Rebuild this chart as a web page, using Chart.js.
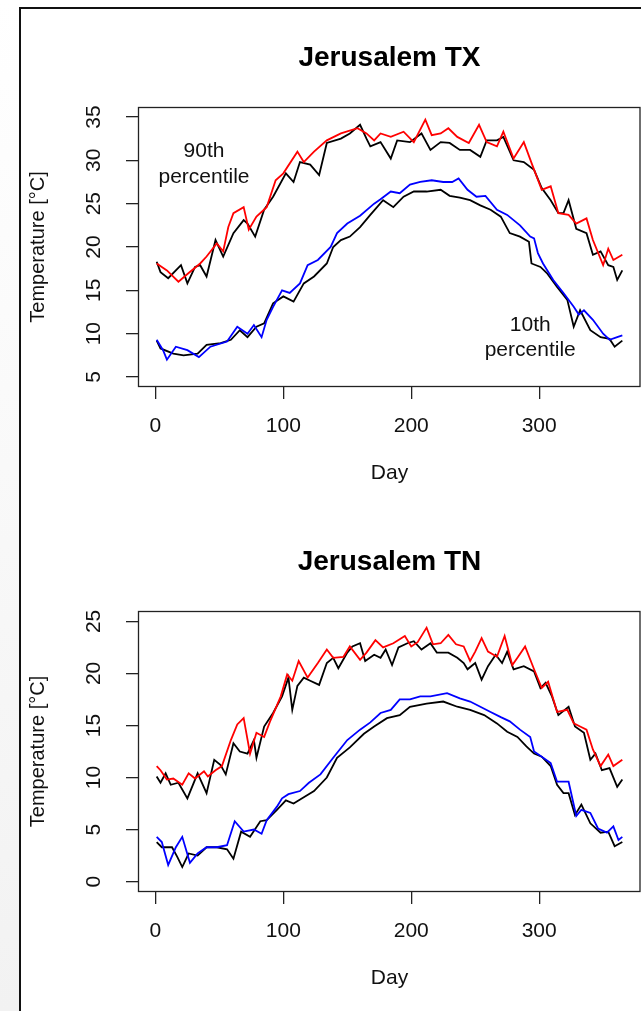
<!DOCTYPE html>
<html>
<head>
<meta charset="utf-8">
<script src="https://cdn.jsdelivr.net/npm/chart.js@4.4.0/dist/chart.umd.min.js"></script>
<style>
  body { margin: 0; width: 641px; height: 1011px; overflow: hidden; position: relative;
         background: linear-gradient(#ffffff, #f2f2f2); }
  #frame { position: absolute; left: 19px; top: 7px; width: 700px; height: 1100px;
           border: 2px solid #111; background: #fff; }
  canvas { position: absolute; left: 0; }
</style>
</head>
<body>
<div id="frame"></div>
<canvas id="chartTX" width="641" height="505" style="top:0px"></canvas>
<canvas id="chartTN" width="641" height="506" style="top:504px"></canvas>
<script>
'use strict';

// tick labels
let dayTicks = [0, 100, 200, 300];
let txTicks = [5, 10, 15, 20, 25, 30, 35];
let tnTicks = [0, 5, 10, 15, 20, 25];

// Jerusalem TX, 90th percentile (red = observed, black = second curve)
let txHiRedDays = [1,9,18,26,35,40,48,53,57,61,69,73,79,87,94,100,111,116,124,134,145,158,165,171,176,184,194,202,211,216,223,229,236,245,253,259,267,272,280,288,294,302,309,315,323,329,337,342,350,354,358,365];
let txHiRedVals = [18.1,17.3,16.0,17.0,18.1,18.9,20.4,19.5,22.3,23.9,24.6,22.0,23.5,24.6,27.7,28.5,31.0,29.8,31.0,32.3,33.1,33.7,33.1,32.3,33.1,32.7,33.3,32.1,34.7,32.9,33.1,33.7,32.7,32.0,34.1,32.1,31.6,33.3,30.2,32.1,29.7,26.6,27.0,23.9,23.7,22.7,23.3,20.8,17.9,19.8,18.5,19.1];
let txHiBlackDays = [1,4,10,20,25,31,35,40,47,53,61,69,72,78,85,92,102,108,113,121,128,134,145,152,160,165,168,176,184,189,199,208,215,223,230,238,246,254,259,267,272,280,288,296,302,309,315,319,323,329,337,342,348,354,358,361,365];
let txHiBlackVals = [18.3,17.1,16.4,17.9,15.8,17.7,17.9,16.6,20.8,18.9,21.6,23.1,22.7,21.2,24.3,25.8,28.5,27.5,29.8,29.5,28.3,32.0,32.5,33.1,34.1,32.5,31.6,32.1,30.2,32.3,32.1,33.1,31.2,32.1,32.0,31.2,31.2,30.4,32.3,32.3,32.7,30.0,29.8,28.9,26.8,25.4,23.9,23.9,25.4,22.1,21.6,19.1,19.5,17.9,17.7,16.2,17.3];
// Jerusalem TX, 10th percentile (blue / black)
let txLoBlueDays = [1,6,9,16,25,34,43,56,64,72,77,83,87,92,99,105,113,119,127,137,142,150,160,171,176,184,191,199,207,216,225,232,237,244,251,258,267,275,285,293,296,299,303,311,319,327,331,335,342,350,355,361,365];
let txLoBlueVals = [9.3,8.1,7.0,8.5,8.1,7.3,8.5,9.1,10.8,10.0,11.0,9.6,11.6,13.1,15.0,14.7,15.8,17.9,18.5,20.0,21.6,22.7,23.6,25.0,25.5,26.4,26.2,27.2,27.5,27.7,27.5,27.5,27.9,26.6,25.8,25.9,24.3,23.7,22.5,21.2,21.0,19.3,18.1,16.2,14.7,13.1,12.2,12.7,11.6,10.0,9.3,9.6,9.8];
let txLoBlackDays = [1,4,14,22,33,40,51,59,66,72,79,85,92,100,108,116,124,134,139,145,152,160,168,178,186,194,202,212,223,230,238,246,254,262,270,277,285,292,294,301,306,314,322,327,332,340,348,355,359,365];
let txLoBlackVals = [9.2,8.3,7.7,7.5,7.7,8.7,8.9,9.3,10.4,9.6,10.8,11.2,13.5,14.3,13.7,15.8,16.6,18.1,20.0,20.8,21.2,22.3,23.7,25.4,24.6,25.8,26.4,26.4,26.6,25.9,25.7,25.4,24.8,24.3,23.5,21.6,21.2,20.6,18.1,17.7,17.0,15.4,13.9,10.8,12.7,10.4,9.6,9.4,8.5,9.2];

// Jerusalem TN, 90th percentile (red / black)
let tnHiRedDays = [1,4,9,14,21,26,31,38,41,47,52,59,64,69,74,79,85,90,98,103,107,112,119,127,134,139,147,152,160,165,172,178,186,195,200,205,212,217,223,229,235,241,246,250,255,260,267,273,279,283,289,296,302,307,314,322,327,332,337,342,348,354,358,365];
let tnHiRedVals = [11.1,10.7,9.8,9.9,9.3,10.4,9.9,10.6,10.1,10.7,11.1,13.6,15.1,15.7,12.3,14.3,13.9,15.5,17.8,19.9,19.3,21.2,19.6,21.0,22.3,21.5,21.6,22.6,21.3,22.0,23.2,22.5,22.9,23.6,22.6,23.0,24.4,22.8,22.9,23.7,22.8,22.6,21.2,22.1,23.4,22.1,21.6,23.6,20.8,21.5,22.6,20.4,18.6,19.2,16.3,16.5,15.2,14.9,14.6,12.7,11.1,12.2,11.1,11.7];
let tnHiBlackDays = [1,4,8,12,18,25,33,40,46,51,55,61,66,72,77,79,85,92,99,104,107,111,116,121,128,134,139,143,150,154,160,164,171,176,180,185,190,197,202,208,215,220,229,236,241,244,250,255,260,266,271,275,280,288,296,301,305,310,315,323,328,335,340,344,349,355,361,365];
let tnHiBlackVals = [10.1,9.5,10.4,9.3,9.5,8.0,10.4,8.5,11.7,11.2,10.3,13.3,12.5,12.3,13.6,11.9,14.9,16.2,17.8,19.6,16.5,18.8,19.6,19.3,18.9,21.0,21.5,20.5,22.0,22.6,22.9,21.2,21.8,21.5,22.3,20.8,22.5,22.9,23.1,22.3,22.9,22.0,22.0,21.5,21.0,20.4,21.0,19.4,20.7,21.8,21.0,22.1,20.4,20.7,20.2,18.6,19.1,17.8,16.0,16.8,14.9,14.3,11.7,12.3,10.7,10.9,9.1,9.8];
// Jerusalem TN, 10th percentile (blue / black)
let tnLoBlueDays = [1,5,10,16,21,27,33,40,48,56,62,69,77,83,87,95,99,104,113,120,129,139,150,160,168,176,184,191,199,207,215,228,238,246,254,262,270,277,285,293,296,302,309,314,323,329,333,340,346,353,358,362,365];
let tnLoBlueVals = [4.3,3.8,1.6,3.3,4.3,1.8,2.7,3.3,3.3,3.5,5.8,4.8,5.0,4.6,5.9,7.2,8.0,8.4,8.7,9.5,10.3,11.9,13.6,14.6,15.3,16.2,16.5,17.5,17.5,17.8,17.8,18.1,17.6,17.3,16.8,16.3,15.8,15.4,14.6,13.9,12.5,12.0,11.4,9.6,9.6,6.3,6.9,6.6,5.1,4.7,5.3,4.0,4.3];
let tnLoBlackDays = [1,5,13,17,21,26,33,40,48,56,61,67,74,82,87,95,102,108,116,124,134,142,152,163,171,181,191,199,212,225,236,246,257,267,275,283,290,296,302,309,314,319,323,328,333,340,348,354,359,365];
let tnLoBlackVals = [3.8,3.3,3.3,2.4,1.4,2.7,2.5,3.3,3.3,3.1,2.2,4.8,4.3,5.8,5.9,6.9,7.8,7.5,8.1,8.7,10.0,11.9,12.9,14.2,14.9,15.7,16.0,16.8,17.1,17.3,16.8,16.5,16.0,15.2,14.4,13.9,13.0,12.3,12.0,11.1,9.3,8.5,8.5,6.4,7.4,5.6,4.7,4.8,3.4,3.8];

const FONT = 'Liberation Sans, Arial, sans-serif';
const AXIS_COLOR = '#222';

//pair up day and value arrays
function points(days, vals) {
    return days.map((d, i) => ({ x: d, y: vals[i] }));
}

function line(days, vals, color) {
    return {
        data: points(days, vals),
        borderColor: color,
        borderWidth: 1.8,
        pointRadius: 0,
        tension: 0,
        fill: false
    };
}

//draws the full box round the plot area like R does, and the title centred over it
const boxPlugin = {
    id: 'box',
    afterDatasetsDraw(chart, args, opts) {
        const a = chart.chartArea;
        const ctx = chart.ctx;
        ctx.save();
        ctx.strokeStyle = AXIS_COLOR;
        ctx.lineWidth = 1.3;
        ctx.strokeRect(a.left + 0.5, a.top + 0.5, a.right - a.left - 1.5, a.bottom - a.top - 1);
        ctx.fillStyle = '#000';
        ctx.font = 'bold 28px ' + FONT;
        ctx.textAlign = 'center';
        ctx.textBaseline = 'middle';
        ctx.fillText(opts.title, (a.left + a.right) / 2, a.top - 49);
        ctx.restore();
    }
};

//text labels placed with data coordinates
const notesPlugin = {
    id: 'notes',
    afterDatasetsDraw(chart, args, opts) {
        const ctx = chart.ctx;
        const xs = chart.scales.x;
        const ys = chart.scales.y;
        ctx.save();
        ctx.fillStyle = '#111';
        ctx.font = '21px ' + FONT;
        ctx.textAlign = 'center';
        ctx.textBaseline = 'middle';
        (opts.items || []).forEach(n => {
            ctx.fillText(n.text, xs.getPixelForValue(n.x), ys.getPixelForValue(n.y));
        });
        ctx.restore();
    }
};

function makeChart(id, title, datasets, yMin, yMax, yTicks, notes) {
    const ctx = document.getElementById(id).getContext('2d');
    return new Chart(ctx, {
        type: 'line',
        data: { datasets: datasets },
        options: {
            responsive: false,
            animation: false,
            layout: { padding: { left: 22, top: 107, right: 0, bottom: 0 } },
            plugins: {
                legend: { display: false },
                tooltip: { enabled: false },
                title: { display: false },
                box: { title: title },
                notes: { items: notes }
            },
            scales: {
                x: {
                    type: 'linear',
                    min: -13.6,
                    max: 379.6,
                    afterBuildTicks: s => { s.ticks = dayTicks.map(v => ({ value: v })); },
                    afterFit: s => { s.height = 118; },
                    border: { display: false },
                    grid: { drawOnChartArea: false, drawTicks: true, tickLength: 12, color: AXIS_COLOR, lineWidth: 1.3 },
                    ticks: { color: '#111', font: { family: FONT, size: 21 }, padding: 15, maxRotation: 0 },
                    title: { display: true, text: 'Day', color: '#111', font: { family: FONT, size: 21 }, padding: { top: 0, bottom: 19 } }
                },
                y: {
                    min: yMin,
                    max: yMax,
                    afterBuildTicks: s => { s.ticks = yTicks.map(v => ({ value: v })); },
                    afterFit: s => { s.width = 116; },
                    border: { display: false },
                    grid: { drawOnChartArea: false, drawTicks: true, tickLength: 12, color: AXIS_COLOR, lineWidth: 1.3 },
                    ticks: { color: '#111', font: { family: FONT, size: 21 }, padding: 20, minRotation: 90, maxRotation: 90, crossAlign: 'center' },
                    title: { display: true, text: 'Temperature [°C]', color: '#111', font: { family: FONT, size: 20 }, padding: { top: 4, bottom: 0 } }
                }
            }
        },
        plugins: [boxPlugin, notesPlugin]
    });
}

makeChart('chartTX', 'Jerusalem TX', [
    line(txHiRedDays, txHiRedVals, '#ff0000'),
    line(txLoBlueDays, txLoBlueVals, '#0000ff'),
    line(txHiBlackDays, txHiBlackVals, '#000000'),
    line(txLoBlackDays, txLoBlackVals, '#000000')
], 3.85, 36.15, txTicks, [
    { text: '90th', x: 38, y: 31.0 },
    { text: 'percentile', x: 38, y: 28.1 },
    { text: '10th', x: 293, y: 11.0 },
    { text: 'percentile', x: 293, y: 8.1 }
]);

makeChart('chartTN', 'Jerusalem TN', [
    line(tnHiRedDays, tnHiRedVals, '#ff0000'),
    line(tnLoBlueDays, tnLoBlueVals, '#0000ff'),
    line(tnHiBlackDays, tnHiBlackVals, '#000000'),
    line(tnLoBlackDays, tnLoBlackVals, '#000000')
], -1, 26, tnTicks, []);
</script>
</body>
</html>
